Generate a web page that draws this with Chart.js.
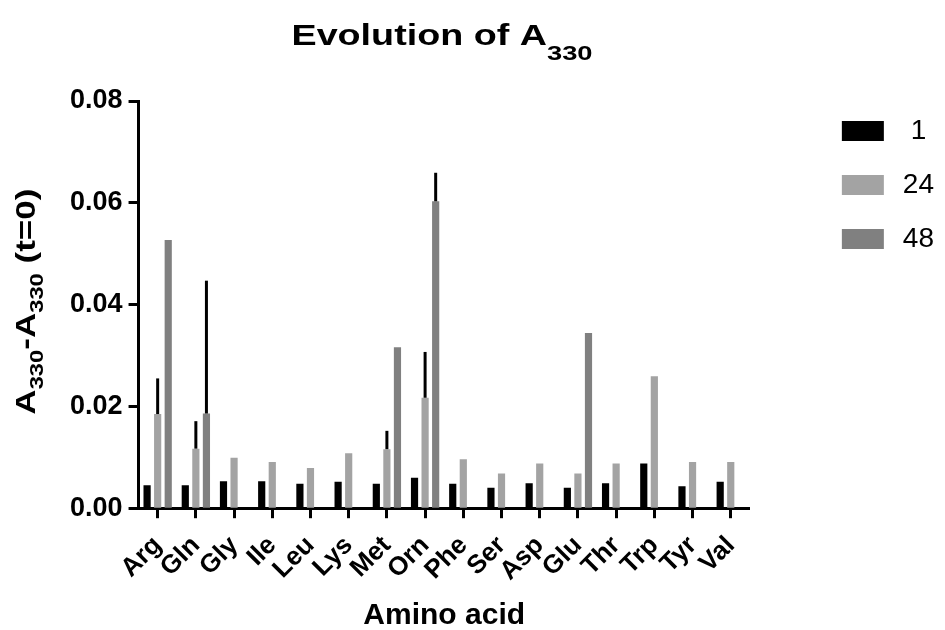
<!DOCTYPE html>
<html>
<head>
<meta charset="utf-8">
<script src="https://cdn.jsdelivr.net/npm/chart.js@4.4.0/dist/chart.umd.min.js"></script>
<style>
html, body { margin: 0; padding: 0; background: #fff; }
#wrap { width: 945px; height: 630px; }
</style>
</head>
<body>
<div id="wrap"><canvas id="a330-chart"></canvas></div>
<script>
// Amino acids on the x axis
var aminoAcids = ['Arg', 'Gln', 'Gly', 'Ile', 'Leu', 'Lys', 'Met', 'Orn', 'Phe', 'Ser', 'Asp', 'Glu', 'Thr', 'Trp', 'Tyr', 'Val'];
// Series labels (time, h)
var seriesNames = ['1', '24', '48'];
// A330 - A330(t=0)
var values1  = [0.0045, 0.0045, 0.0053, 0.0053, 0.0048, 0.0052, 0.0048, 0.0060, 0.0048, 0.0040, 0.0049, 0.0040, 0.0049, 0.0088, 0.0043, 0.0052];
var values24 = [0.0185, 0.0117, 0.0099, 0.0091, 0.0079, 0.0108, 0.0116, 0.0217, 0.0096, 0.0068, 0.0088, 0.0068, 0.0088, 0.0259, 0.0091, 0.0091];
var values48 = [0.0527, 0.0186, null, null, null, null, 0.0316, 0.0603, null, null, null, 0.0344, null, null, null, null];
// upper error bars
var errors24 = [0.0070, 0.0054, null, null, null, null, 0.0036, 0.0090, null, null, null, null, null, null, null, null];
var errors48 = [null, 0.0261, null, null, null, null, null, 0.0056, null, null, null, null, null, null, null, null];
var yTicks = [0, 0.02, 0.04, 0.06, 0.08];

var FONT = "'Liberation Sans', Arial, sans-serif";

// Draw text pieces with subscripts, centred on x; sx = horizontal stretch
function drawRich(ctx, parts, size, subSize, subDy, x, y, sx) {
    var w = 0;
    parts.forEach(function (p) {
        ctx.font = 'bold ' + (p.sub ? subSize : size) + 'px ' + FONT;
        w += ctx.measureText(p.t).width;
    });
    ctx.save();
    ctx.translate(x, y);
    ctx.scale(sx, 1);
    var cx = -w / 2;
    ctx.fillStyle = '#000';
    ctx.textBaseline = 'alphabetic';
    ctx.textAlign = 'left';
    parts.forEach(function (p) {
        ctx.font = 'bold ' + (p.sub ? subSize : size) + 'px ' + FONT;
        ctx.fillText(p.t, cx, p.sub ? subDy : 0);
        cx += ctx.measureText(p.t).width;
    });
    ctx.restore();
}

var titlesPlugin = {
    id: 'richTitles',
    afterDraw: function (chart) {
        var ctx = chart.ctx;
        var area = chart.chartArea;
        drawRich(ctx, [{t: 'Evolution of A'}, {t: '330', sub: true}], 29, 21, 15, 442, 45, 1.3);
        ctx.save();
        ctx.translate(35, (area.top + area.bottom) / 2 - 3);
        ctx.rotate(-Math.PI / 2);
        drawRich(ctx, [{t: 'A'}, {t: '330', sub: true}, {t: '-A'}, {t: '330', sub: true}, {t: ' (t=0)'}], 28, 19, 8, 0, 0, 1.25);
        ctx.restore();
    }
};

var errorBarPlugin = {
    id: 'errorBars',
    afterDatasetsDraw: function (chart) {
        var ctx = chart.ctx;
        var yScale = chart.scales.y;
        chart.data.datasets.forEach(function (ds, i) {
            if (!ds.errorBars) return;
            var meta = chart.getDatasetMeta(i);
            meta.data.forEach(function (bar, j) {
                var e = ds.errorBars[j];
                if (!e || ds.data[j] == null) return;
                var top = yScale.getPixelForValue(ds.data[j] + e);
                ctx.save();
                ctx.strokeStyle = '#000';
                ctx.lineWidth = 3;
                ctx.beginPath();
                ctx.moveTo(bar.x, bar.y);
                ctx.lineTo(bar.x, top);
                ctx.stroke();
                ctx.restore();
            });
        });
    }
};

function BuildChart() {
    var ctx = document.getElementById('a330-chart').getContext('2d');
    var barOpts = {categoryPercentage: 0.83, barPercentage: 0.68, borderWidth: 0};
    return new Chart(ctx, {
        type: 'bar',
        data: {
            labels: aminoAcids,
            datasets: [
                Object.assign({label: seriesNames[0], data: values1, backgroundColor: '#000000'}, barOpts),
                Object.assign({label: seriesNames[1], data: values24, backgroundColor: '#a3a3a3', errorBars: errors24}, barOpts),
                Object.assign({label: seriesNames[2], data: values48, backgroundColor: '#808080', errorBars: errors48}, barOpts)
            ]
        },
        options: {
            responsive: true,
            maintainAspectRatio: false,
            animation: false,
            layout: {padding: {top: 91, left: 64, right: 6, bottom: 2}},
            plugins: {
                title: {display: false},
                tooltip: {enabled: false},
                legend: {
                    position: 'right',
                    align: 'start',
                    labels: {
                        boxWidth: 42,
                        boxHeight: 20,
                        padding: 26,
                        color: '#000',
                        textAlign: 'center',
                        font: {family: FONT, size: 28}
                    }
                }
            },
            scales: {
                x: {
                    grid: {display: true, drawOnChartArea: false, tickLength: 10, tickWidth: 3, tickColor: '#000', offset: false},
                    border: {display: true, color: '#000', width: 3},
                    ticks: {color: '#000', autoSkip: false, minRotation: 45, maxRotation: 45, padding: 12, font: {family: FONT, size: 26, weight: 'bold'}},
                    title: {display: true, text: 'Amino acid', color: '#000', padding: {top: 5, bottom: 0}, font: {family: FONT, size: 30, weight: 'bold', lineHeight: 0.8}}
                },
                y: {
                    min: 0,
                    max: 0.08,
                    afterBuildTicks: function (scale) {
                        scale.ticks = yTicks.map(function (v) { return {value: v}; });
                    },
                    afterFit: function (scale) { scale.paddingTop = 101; },
                    grid: {display: true, drawOnChartArea: false, tickLength: 10, tickWidth: 3, tickColor: '#000'},
                    border: {display: true, color: '#000', width: 3},
                    ticks: {
                        color: '#000',
                        padding: 6,
                        font: {family: FONT, size: 27, weight: 'bold'},
                        callback: function (v) { return Number(v).toFixed(2); }
                    }
                },
                // empty right-hand axis, only keeps room between plot and legend
                gap: {
                    position: 'right',
                    display: true,
                    grid: {display: false},
                    border: {display: false},
                    ticks: {display: false},
                    afterFit: function (scale) { scale.width = 66; }
                }
            }
        },
        plugins: [errorBarPlugin, titlesPlugin]
    });
}

window.onload = function () {
    BuildChart();
};
</script>
</body>
</html>
